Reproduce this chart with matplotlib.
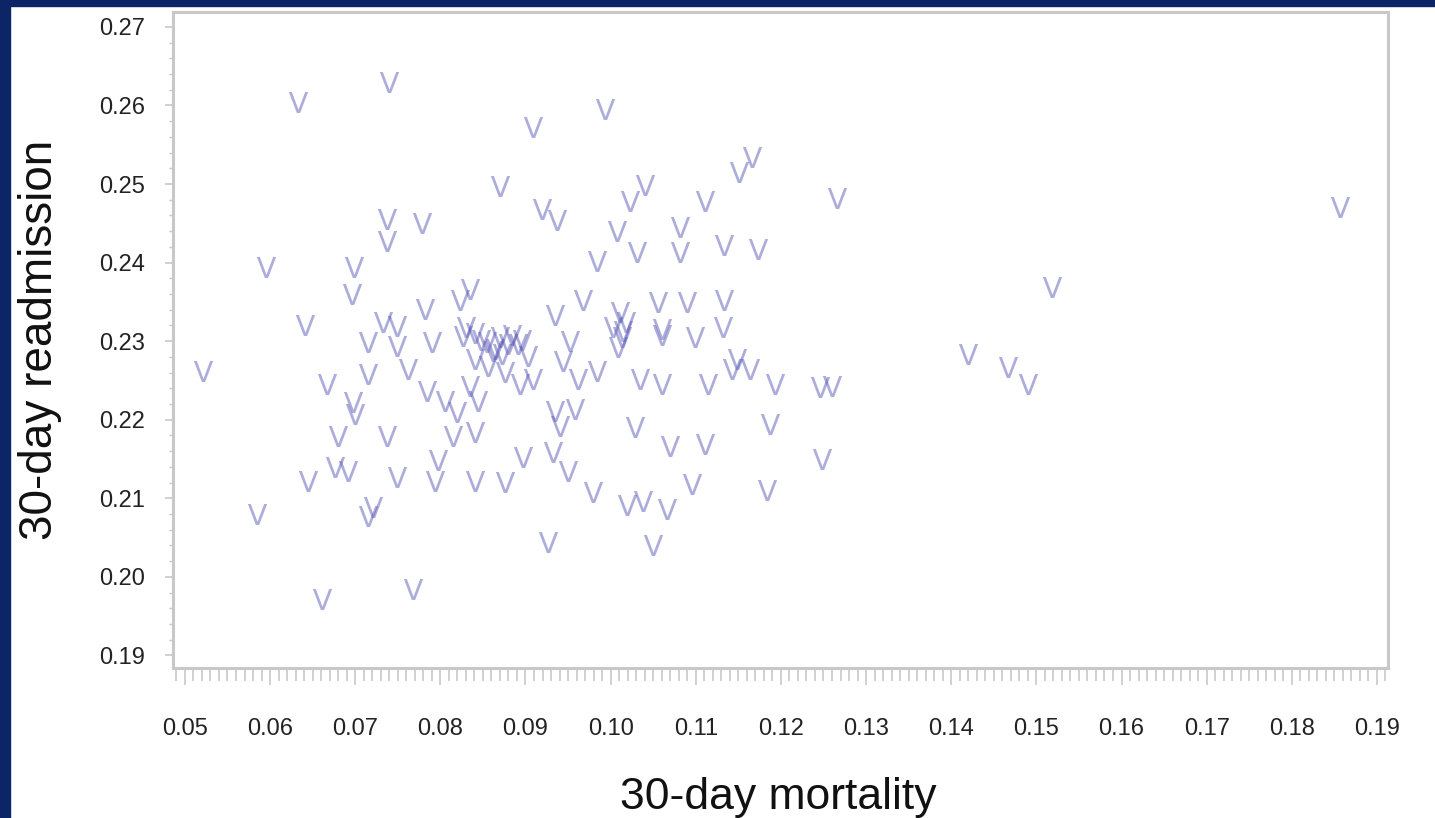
import numpy as np
import matplotlib
matplotlib.use("Agg")
import matplotlib.pyplot as plt
from matplotlib.ticker import MultipleLocator, FormatStrFormatter

# 30-day mortality (x) and 30-day readmission (y) per hospital
mortality = [
    0.0633, 0.0740, 0.0909, 0.0993, 0.0870, 0.0919, 0.0937, 0.1166, 0.1151, 0.1040,
    0.1023, 0.1007, 0.1111, 0.1081, 0.1266, 0.1857, 0.0737, 0.0737, 0.0778, 0.0595,
    0.0698, 0.0696, 0.1031, 0.1081, 0.1133, 0.1173, 0.0984, 0.0641, 0.0733, 0.0749,
    0.0782, 0.0823, 0.0835, 0.0967, 0.1011, 0.1056, 0.1090, 0.1133, 0.0935, 0.1132,
    0.1060, 0.1099, 0.1014, 0.1518, 0.0521, 0.0667, 0.0697, 0.0700, 0.0715, 0.0715,
    0.0749, 0.0762, 0.0790, 0.0784, 0.0805, 0.0819, 0.0844, 0.0835, 0.0841, 0.0876,
    0.0893, 0.0827, 0.0855, 0.0891, 0.0903, 0.0856, 0.0909, 0.0841, 0.0870, 0.0884,
    0.0864, 0.0680, 0.0737, 0.0815, 0.0841, 0.0644, 0.0676, 0.0691, 0.0749, 0.0797,
    0.0794, 0.0841, 0.0876, 0.0897, 0.0585, 0.0721, 0.0715, 0.0661, 0.0768, 0.0952,
    0.0944, 0.0962, 0.0984, 0.1013, 0.1009, 0.1060, 0.1148, 0.1142, 0.1164, 0.1034,
    0.1060, 0.1114, 0.1193, 0.1246, 0.1260, 0.0935, 0.0958, 0.0940, 0.1029, 0.1070,
    0.1111, 0.1187, 0.0932, 0.0950, 0.0979, 0.1019, 0.1038, 0.1066, 0.1096, 0.1184,
    0.1248, 0.0926, 0.1050, 0.1420, 0.1467, 0.1490,
    # extra marks in the dense 0.23 band
    0.0848, 0.0862, 0.0880, 0.0830, 0.0896, 0.0872, 0.1018, 0.1003,
]
readmission = [
    0.2605, 0.2630, 0.2572, 0.2595, 0.2497, 0.2468, 0.2454, 0.2535, 0.2515, 0.2499,
    0.2478, 0.2440, 0.2478, 0.2445, 0.2482, 0.2471, 0.2455, 0.2427, 0.2451, 0.2395,
    0.2394, 0.2360, 0.2414, 0.2413, 0.2423, 0.2417, 0.2402, 0.2320, 0.2324, 0.2319,
    0.2341, 0.2353, 0.2366, 0.2353, 0.2337, 0.2350, 0.2350, 0.2352, 0.2333, 0.2318,
    0.2315, 0.2305, 0.2313, 0.2369, 0.2262, 0.2245, 0.2223, 0.2207, 0.2258, 0.2299,
    0.2294, 0.2264, 0.2299, 0.2237, 0.2224, 0.2210, 0.2224, 0.2243, 0.2277, 0.2261,
    0.2245, 0.2306, 0.2299, 0.2296, 0.2281, 0.2268, 0.2252, 0.2311, 0.2305, 0.2308,
    0.2290, 0.2179, 0.2179, 0.2179, 0.2184, 0.2122, 0.2140, 0.2135, 0.2127, 0.2149,
    0.2122, 0.2122, 0.2121, 0.2153, 0.2080, 0.2089, 0.2078, 0.1972, 0.1985, 0.2300,
    0.2275, 0.2252, 0.2262, 0.2305, 0.2292, 0.2308, 0.2277, 0.2264, 0.2264, 0.2252,
    0.2245, 0.2245, 0.2245, 0.2242, 0.2243, 0.2211, 0.2214, 0.2192, 0.2191, 0.2167,
    0.2169, 0.2195, 0.2159, 0.2135, 0.2108, 0.2091, 0.2097, 0.2087, 0.2118, 0.2110,
    0.2150, 0.2045, 0.2040, 0.2284, 0.2267, 0.2245,
    0.2302, 0.2288, 0.2296, 0.2318, 0.2302, 0.2284, 0.2325, 0.2318,
]

x_ticks = [0.05, 0.06, 0.07, 0.08, 0.09, 0.10, 0.11, 0.12, 0.13, 0.14, 0.15, 0.16, 0.17, 0.18, 0.19]
y_ticks = [0.19, 0.20, 0.21, 0.22, 0.23, 0.24, 0.25, 0.26, 0.27]

NAVY = "#0b2567"
SPINE = "#c8c8c8"

plt.rcParams["font.family"] = ["Liberation Sans", "DejaVu Sans"]

fig = plt.figure(figsize=(14.35, 8.18), dpi=100)
fig.patch.set_facecolor("white")
# slide frame: navy strips on the left and top
fig.patches.append(plt.Rectangle((0, 0), 10 / 1435, 1, transform=fig.transFigure,
                                 color=NAVY, zorder=0))
fig.patches.append(plt.Rectangle((0, 1 - 6 / 818), 1, 6 / 818, transform=fig.transFigure,
                                 color=NAVY, zorder=0))

ax = fig.add_axes([173 / 1435, 1 - 668 / 818, (1388 - 173) / 1435, (668 - 12) / 818])
ax.scatter(mortality, readmission, marker=r"$\mathsf{V}$", s=230,
           color="#5c5cb8", alpha=0.5, linewidths=0)

ax.set_xlim(0.0486, 0.1913)
ax.set_ylim(0.1884, 0.2719)
ax.set_xticks(x_ticks)
ax.set_yticks(y_ticks)
ax.xaxis.set_minor_locator(MultipleLocator(0.001))
ax.yaxis.set_minor_locator(MultipleLocator(0.002))
ax.xaxis.set_major_formatter(FormatStrFormatter("%.2f"))
ax.yaxis.set_major_formatter(FormatStrFormatter("%.2f"))

for side in ["left", "bottom", "top", "right"]:
    ax.spines[side].set_color(SPINE)
    ax.spines[side].set_linewidth(2.2)

ax.tick_params(axis="x", which="major", length=12, width=1.2, color=SPINE,
               labelsize=17, labelcolor="#222222", pad=24)
ax.tick_params(axis="x", which="minor", length=9, width=1.2, color=SPINE)
ax.tick_params(axis="y", which="major", length=6, width=1.2, color=SPINE,
               labelsize=17, labelcolor="#222222", pad=14)
ax.tick_params(axis="y", which="minor", length=3, width=1.0, color=SPINE)

fig.text(778 / 1435, 1 - 798 / 818, "30-day mortality", fontsize=32,
         color="#111111", ha="center", va="center")
fig.text(40 / 1435, 1 - 340 / 818, "30-day readmission", fontsize=33,
         color="#111111", ha="center", va="center", rotation=90)

fig.savefig("out.png", dpi=100, facecolor=fig.get_facecolor())
